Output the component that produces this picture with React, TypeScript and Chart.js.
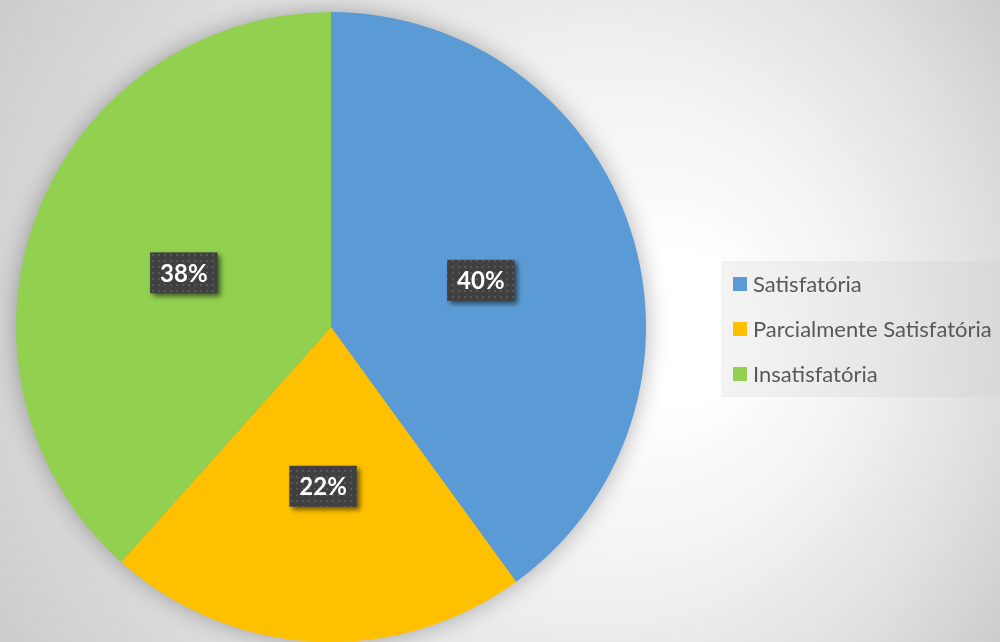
import React, { useEffect, useRef } from "react";
import { Chart, registerables } from "chart.js";

Chart.register(...registerables);

const categories = ["Satisfatória", "Parcialmente Satisfatória", "Insatisfatória"];
const values = [40, 21.6, 38.4];
const colors = ["#5B9BD5", "#FFC000", "#92D050"];

const W = 1000;
const H = 642;

function makeDotPattern(ctx: CanvasRenderingContext2D) {
  const c = document.createElement("canvas");
  c.width = 6;
  c.height = 6;
  const p = c.getContext("2d")!;
  p.fillStyle = "#404040";
  p.fillRect(0, 0, 6, 6);
  p.fillStyle = "#585858";
  p.fillRect(2, 2, 2, 2);
  return ctx.createPattern(c, "repeat");
}

export default function App() {
  const ref = useRef<HTMLCanvasElement>(null);

  useEffect(() => {
    const canvas = ref.current!;
    const total = values.reduce((a, b) => a + b, 0);

    const decor = {
      id: "decor",
      beforeDraw(chart: any) {
        const ctx: CanvasRenderingContext2D = chart.ctx;
        ctx.save();
        const g = ctx.createRadialGradient(700, 330, 0, 500, 321, 600);
        g.addColorStop(0, "#ffffff");
        g.addColorStop(0.12, "#ffffff");
        g.addColorStop(0.45, "#f0f0f0");
        g.addColorStop(0.75, "#dedede");
        g.addColorStop(1, "#cbcbcb");
        ctx.fillStyle = g;
        ctx.fillRect(0, 0, W, H);
        // legend background
        ctx.fillStyle = "rgba(200,200,200,0.22)";
        ctx.fillRect(721, 261, 279, 136);
        ctx.restore();
      },
      beforeDatasetsDraw(chart: any) {
        const ctx: CanvasRenderingContext2D = chart.ctx;
        const arc = chart.getDatasetMeta(0).data[0];
        const { x, y, outerRadius } = arc.getProps(["x", "y", "outerRadius"], true);
        ctx.save();
        ctx.shadowColor = "rgba(0,0,0,0.32)";
        ctx.shadowBlur = 24;
        ctx.fillStyle = "#999999";
        ctx.beginPath();
        ctx.arc(x, y, outerRadius - 1, 0, Math.PI * 2);
        ctx.fill();
        ctx.restore();
      },
      afterDatasetsDraw(chart: any) {
        const ctx: CanvasRenderingContext2D = chart.ctx;
        const meta = chart.getDatasetMeta(0);
        const pattern = makeDotPattern(ctx);
        ctx.save();
        ctx.font = "bold 24px Lato";
        ctx.textAlign = "center";
        ctx.textBaseline = "middle";
        meta.data.forEach((arc: any, i: number) => {
          const pos = arc.tooltipPosition(true);
          const cy = pos.y + 2;
          const label = Math.round((values[i] / total) * 100) + "%";
          const tw = ctx.measureText(label).width;
          const bw = tw + 20;
          const bh = 41;
          ctx.save();
          ctx.shadowColor = "rgba(0,0,0,0.55)";
          ctx.shadowBlur = 5;
          ctx.shadowOffsetX = 3;
          ctx.shadowOffsetY = 3;
          ctx.fillStyle = pattern || "#404040";
          ctx.fillRect(pos.x - bw / 2, cy - bh / 2, bw, bh);
          ctx.restore();
          ctx.fillStyle = "#ffffff";
          ctx.fillText(label, pos.x, cy + 1);
        });
        ctx.restore();

        // legend
        ctx.save();
        ctx.font = "22px Lato";
        ctx.textAlign = "left";
        ctx.textBaseline = "middle";
        const rows = [284, 329, 374];
        categories.forEach((c, i) => {
          ctx.fillStyle = colors[i];
          ctx.fillRect(733, rows[i] - 7, 14, 14);
          ctx.fillStyle = "#595959";
          ctx.fillText(c, 753, rows[i] + 1);
        });
        ctx.restore();
      },
    };

    const chart = new Chart(canvas, {
      type: "pie",
      data: {
        labels: categories,
        datasets: [
          {
            data: values,
            backgroundColor: colors,
            borderWidth: 0,
          },
        ],
      },
      options: {
        responsive: false,
        animation: false,
        devicePixelRatio: 1,
        layout: { padding: { left: 16, top: 12, right: 354, bottom: 0 } },
        plugins: {
          legend: { display: false },
          tooltip: { enabled: false },
        },
      },
      plugins: [decor],
    });
    return () => chart.destroy();
  }, []);

  return (
    <div style={{ position: "fixed", left: 0, top: 0, width: W, height: H, overflow: "hidden" }}>
      <canvas ref={ref} width={W} height={H} style={{ display: "block" }} />
    </div>
  );
}
